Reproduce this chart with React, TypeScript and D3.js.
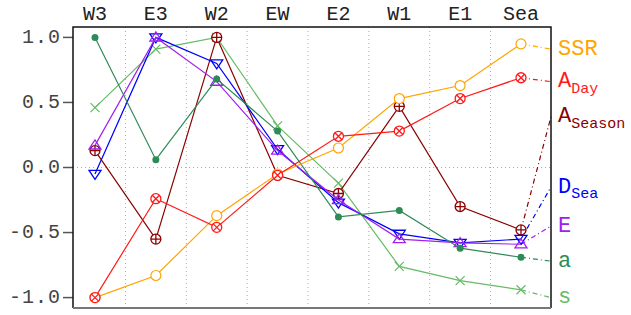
import React from "react";
import * as d3 from "d3";

const categories = ["W3", "E3", "W2", "EW", "E2", "W1", "E1", "Sea"];
const yTicks = [1.0, 0.5, 0.0, -0.5, -1.0];

const ssr = [-1.0, -0.83, -0.37, -0.05, 0.15, 0.53, 0.63, 0.95];
const aDay = [-1.0, -0.24, -0.46, -0.06, 0.24, 0.28, 0.53, 0.69];
const aSeason = [0.13, -0.55, 1.0, -0.06, -0.2, 0.47, -0.3, -0.48];
const dSea = [-0.05, 1.0, 0.8, 0.14, -0.27, -0.51, -0.58, -0.55];
const eVals = [0.17, 1.0, 0.66, 0.13, -0.25, -0.55, -0.58, -0.59];
const aVals = [1.0, 0.06, 0.68, 0.28, -0.38, -0.33, -0.62, -0.69];
const sVals = [0.46, 0.91, 1.0, 0.32, -0.12, -0.76, -0.87, -0.94];

// where each series' name sits on the right, in data units
const labelAt = [0.91, 0.66, 0.39, -0.15, -0.45, -0.72, -1.0];

const series = [
  { name: "SSR", sub: "", values: ssr, color: "#ffa500", marker: "circle" },
  { name: "A", sub: "Day", values: aDay, color: "#ff1a1a", marker: "circleX" },
  { name: "A", sub: "Season", values: aSeason, color: "#8b0000", marker: "circlePlus" },
  { name: "D", sub: "Sea", values: dSea, color: "#0000ff", marker: "triDown" },
  { name: "E", sub: "", values: eVals, color: "#a020f0", marker: "triUp" },
  { name: "a", sub: "", values: aVals, color: "#2e8b57", marker: "dot" },
  { name: "s", sub: "", values: sVals, color: "#66bb66", marker: "cross" },
];
// drawing order: s at the bottom, red on top
const drawOrder = [6, 2, 3, 4, 5, 0, 1];

const W = 631;
const H = 315;
const frame = { left: 73, right: 551, top: 27, bottom: 308 };

const x = d3.scalePoint<string>().domain(categories).range([95, 521]);
const y = d3.scaleLinear().domain([-1.08, 1.08]).range([frame.bottom, frame.top]);

const mono = "'Liberation Mono', 'DejaVu Sans Mono', monospace";

function Marker({ type, cx, cy, color }: { type: string; cx: number; cy: number; color: string }) {
  const r = 5;
  if (type === "circle")
    return <circle cx={cx} cy={cy} r={r} fill="white" stroke={color} strokeWidth={1.2} />;
  if (type === "circleX") {
    const d = r * 0.7;
    return (
      <g stroke={color} strokeWidth={1.3} fill="white">
        <circle cx={cx} cy={cy} r={r} />
        <path d={`M${cx - d},${cy - d}L${cx + d},${cy + d}M${cx - d},${cy + d}L${cx + d},${cy - d}`} />
      </g>
    );
  }
  if (type === "circlePlus")
    return (
      <g stroke={color} strokeWidth={1.3} fill="white">
        <circle cx={cx} cy={cy} r={r} />
        <path d={`M${cx - r},${cy}L${cx + r},${cy}M${cx},${cy - r}L${cx},${cy + r}`} />
      </g>
    );
  if (type === "triDown") {
    const s = 6;
    return (
      <path
        d={`M${cx - s},${cy - s * 0.6}L${cx + s},${cy - s * 0.6}L${cx},${cy + s * 0.9}Z`}
        fill="none"
        stroke={color}
        strokeWidth={1.3}
      />
    );
  }
  if (type === "triUp") {
    const s = 6;
    return (
      <path
        d={`M${cx - s},${cy + s * 0.6}L${cx + s},${cy + s * 0.6}L${cx},${cy - s * 0.9}Z`}
        fill="none"
        stroke={color}
        strokeWidth={1.3}
      />
    );
  }
  if (type === "dot") return <circle cx={cx} cy={cy} r={3.5} fill={color} />;
  const d = 4.5;
  return (
    <path
      d={`M${cx - d},${cy - d}L${cx + d},${cy + d}M${cx - d},${cy + d}L${cx + d},${cy - d}`}
      stroke={color}
      strokeWidth={1.2}
    />
  );
}

export default function App() {
  const line = d3
    .line<number>()
    .x((_, i) => x(categories[i]) as number)
    .y((v) => y(v));

  const step = x.step();
  const last = categories[categories.length - 1];

  return (
    <svg width={W} height={H} style={{ position: "absolute", left: 0, top: 0, background: "white" }}>
      {/* grid */}
      {categories.slice(1).map((c) => (
        <line
          key={c}
          x1={(x(c) as number) - step / 2}
          x2={(x(c) as number) - step / 2}
          y1={frame.top}
          y2={frame.bottom}
          stroke="#aaa"
          strokeWidth={1}
          strokeDasharray="1,3"
        />
      ))}
      <line x1={frame.left} x2={frame.right} y1={y(0)} y2={y(0)} stroke="#aaa" strokeDasharray="1,3" />

      {/* top labels */}
      {categories.map((c) => (
        <text key={c} x={x(c)} y={20} textAnchor="middle" fontFamily={mono} fontSize={20} fill="#222">
          {c}
        </text>
      ))}

      {/* y ticks */}
      {yTicks.map((t) => (
        <g key={t}>
          <line x1={frame.left - 10} x2={frame.left} y1={y(t)} y2={y(t)} stroke="#555" strokeWidth={1.5} />
          <text
            x={frame.left - 12}
            y={y(t)}
            textAnchor="end"
            dominantBaseline="central"
            fontFamily={mono}
            fontSize={20}
            letterSpacing={1}
            fill="#444"
          >
            {t.toFixed(1)}
          </text>
        </g>
      ))}

      {/* connectors to labels */}
      {series.map((s, i) => (
        <line
          key={"c" + i}
          x1={x(last)}
          y1={y(s.values[s.values.length - 1])}
          x2={frame.right}
          y2={y(labelAt[i])}
          stroke={s.color}
          strokeWidth={1.2}
          strokeDasharray="5,3,1,3"
        />
      ))}

      {/* series */}
      {drawOrder.map((i) => {
        const s = series[i];
        return (
          <g key={"s" + i}>
            <path d={line(s.values) || ""} fill="none" stroke={s.color} strokeWidth={1.2} />
            {s.values.map((v, j) => (
              <Marker key={j} type={s.marker} cx={x(categories[j]) as number} cy={y(v)} color={s.color} />
            ))}
          </g>
        );
      })}

      {/* frame */}
      <path
        d={`M${frame.left},${frame.bottom}L${frame.left},${frame.top}L${frame.right},${frame.top}L${frame.right},${frame.bottom}`}
        fill="none"
        stroke="#111"
        strokeWidth={1.5}
      />
      <line x1={frame.left} x2={frame.right} y1={frame.bottom} y2={frame.bottom} stroke="#777" strokeWidth={2} />

      {/* series names */}
      {series.map((s, i) => (
        <text
          key={"l" + i}
          x={frame.right + 7}
          y={y(labelAt[i])}
          dominantBaseline="central"
          fontFamily={mono}
          fontSize={22}
          fill={s.color}
        >
          {s.name}
          {s.sub && (
            <tspan fontSize={15} dy={7}>
              {s.sub}
            </tspan>
          )}
        </text>
      ))}
    </svg>
  );
}
